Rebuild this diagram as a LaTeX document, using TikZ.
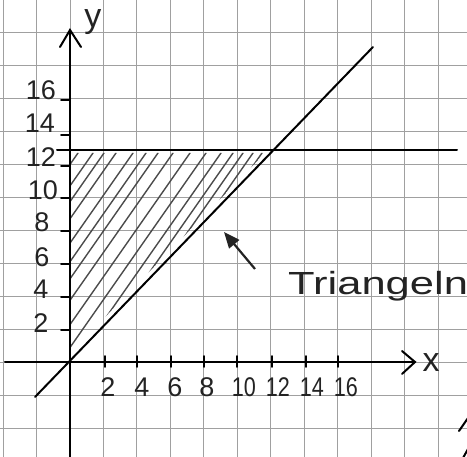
\documentclass[tikz,border=0pt]{standalone}
\usepackage{fontspec}
\setmainfont{Liberation Sans}
\usetikzlibrary{arrows.meta}
\definecolor{gridc}{RGB}{160,160,160}
\definecolor{pencil}{RGB}{35,35,35}
\definecolor{hatchc}{RGB}{75,75,75}
\tikzset{
  gridline/.style={draw=gridc, line width=0.9pt},
  axisline/.style={draw=black, line width=2pt, line cap=round},
  graphline/.style={draw=black, line width=2pt, line cap=round},
  hatchline/.style={draw=hatchc, line width=1.4pt, line cap=round},
  tickline/.style={draw=black, line width=1.6pt, line cap=round},
  lbl/.style={inner sep=0pt, text=pencil, font=\fontsize{27}{27}\selectfont},
  axlbl/.style={inner sep=0pt, text=pencil, font=\fontsize{34}{34}\selectfont},
  pointer/.style={draw=pencil, line width=2.2pt, -{Triangle[length=16pt,width=13pt]}}
}
\begin{document}
\begin{tikzpicture}[x=1pt,y=-1pt]
\useasboundingbox (0,0) rectangle (467,457);
\fill[white] (0,0) rectangle (467,457);
% grid
\foreach \k in {-2,...,11} \draw[gridline] ({70+33.45*\k},0) -- ({70+33.45*\k},457);
\foreach \k in {-3,...,11} \draw[gridline] (0,{362-33*\k}) -- (467,{362-33*\k});
% hatching
\begin{scope}
  \clip (69,153) -- (265,153) -- (69,354) -- cycle;
  \foreach \s in {78,93,104,116,133,146,158,173,190,206,221,233,243,253,262}
    \draw[hatchline] (\s,153) -- ++(-220,314.6);
\end{scope}
% axes
\coordinate (ybot) at (70,457);
\coordinate (ytop) at (70,30);
\coordinate (xleft) at (5,362);
\coordinate (xright) at (415,362);
\draw[axisline] (ybot) -- (ytop);
\draw[axisline] (60,47) -- (ytop) -- (81,47);
\draw[axisline] (xleft) -- (xright);
\draw[axisline] (402,351) -- (xright) -- (402,374);
% graph lines
\coordinate (d1) at (35,397);
\coordinate (d2) at (373,47);
\draw[graphline] (d1) -- (d2);
\coordinate (h1) at (57,150);
\coordinate (h2) at (457,150);
\draw[graphline] (h1) -- (h2);
% y ticks
\foreach \yy in {330,297,264,231,198,166,135,100} \draw[tickline] (61,\yy) -- (70,\yy);
% x ticks
\foreach \xx in {105,137,171,204,237,272,306,338} \draw[tickline] (\xx,356) -- (\xx,367);
% y labels
\node[lbl] (ly16) at (41,90) {16};
\node[lbl] (ly14) at (40,123) {14};
\node[lbl] (ly12) at (41,157) {12};
\node[lbl] (ly10) at (43,190) {10};
\node[lbl] (ly8) at (42,222) {8};
\node[lbl] (ly6) at (42,257) {6};
\node[lbl] (ly4) at (41,289) {4};
\node[lbl] (ly2) at (41,323) {2};
% x labels
\node[lbl] (lx2) at (108,387) {2};
\node[lbl] (lx4) at (142,387) {4};
\node[lbl] (lx6) at (175,387) {6};
\node[lbl] (lx8) at (207,387) {8};
\node[lbl] (lx10) at (244,387) {\scalebox{0.8}[1]{10}};
\node[lbl] (lx12) at (278,387) {\scalebox{0.8}[1]{12}};
\node[lbl] (lx14) at (312,387) {\scalebox{0.8}[1]{14}};
\node[lbl] (lx16) at (346,387) {\scalebox{0.8}[1]{16}};
% axis names
\node[axlbl] (ylab) at (93,22) {y};
\node[axlbl] (xlab) at (431,363) {x};
% annotation
\node[axlbl, anchor=base west, font=\fontsize{32}{32}\selectfont] (tri) at (288,295) {\scalebox{1.36}[1]{Triangeln}};
\coordinate (ptail) at (255,269);
\coordinate (phead) at (224,232);
\draw[pointer] (ptail) -- (phead);
% edge fragments
\draw[graphline] (459,431) -- (468,418);
\draw[graphline] (463,458) -- (468,449);
\end{tikzpicture}
\end{document}
